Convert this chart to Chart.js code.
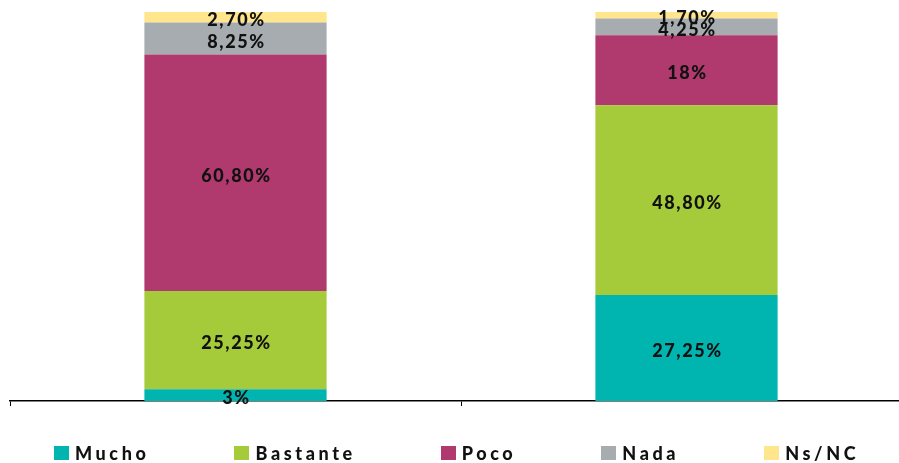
<!DOCTYPE html>
<html lang="es">
<head>
<meta charset="UTF-8">
<title>Mucho / Bastante / Poco / Nada / Ns/NC</title>
<script src="https://cdn.jsdelivr.net/npm/chart.js"></script>
<style>
    html, body {
        margin: 0;
        background: #fff;
        font-family: Lato, sans-serif;
        overflow: hidden;
    }
    .wrap {
        position: relative;
        width: 899px;
        height: 463px;
        overflow: hidden;
    }
    #legend {
        position: absolute;
        left: 54px;
        top: 444px;
        display: flex;
        gap: 85px;
        margin: 0;
        padding: 0;
        list-style: none;
    }
    #legend li {
        display: flex;
        align-items: center;
        height: 18px;
        font-weight: 900;
        font-size: 18px;
        letter-spacing: 3.6px;
        color: #111;
    }
    #legend .box {
        width: 15px;
        height: 14px;
        margin-right: 6px;
    }
</style>
</head>
<body>
<div class="wrap">
    <!-- the plot runs a little past the right edge, as in the original -->
    <canvas id="chart" width="912" height="463"></canvas>
    <ul id="legend"></ul>
</div>
<script>
    // two stacked columns, values in percent
    const categories = ['1', '2'];
    const mucho = [3, 27.25];
    const bastante = [25.25, 48.8];
    const poco = [60.8, 18];
    const nada = [8.25, 4.25];
    const nsnc = [2.7, 1.7];

    const seriesNames = ['Mucho', 'Bastante', 'Poco', 'Nada', 'Ns/NC'];
    const seriesValues = [mucho, bastante, poco, nada, nsnc];
    const seriesColors = ['#00b5b0', '#a5ca3a', '#b03a6e', '#a6acaf', '#ffe68c'];

    function fmt(v) {
        if (Number.isInteger(v)) return v + '%';
        return v.toFixed(2).replace('.', ',') + '%';
    }

    // value labels in the middle of each segment
    const barLabels = {
        id: 'barLabels',
        afterDraw(chart) {
            const ctx = chart.ctx;
            ctx.save();
            ctx.font = '900 18px Lato';
            ctx.letterSpacing = '1.6px';
            ctx.fillStyle = '#111';
            ctx.textAlign = 'center';
            ctx.textBaseline = 'alphabetic';
            chart.data.datasets.forEach((ds, i) => {
                chart.getDatasetMeta(i).data.forEach((bar, j) => {
                    const p = bar.getProps(['x', 'y', 'base'], true);
                    ctx.fillText(fmt(ds.data[j]), p.x + 1, (p.y + p.base) / 2 + 9);
                });
            });
            ctx.restore();
        }
    };

    // html legend under the axis
    const htmlLegend = {
        id: 'htmlLegend',
        afterUpdate(chart) {
            const ul = document.getElementById('legend');
            ul.innerHTML = '';
            chart.options.plugins.legend.labels.generateLabels(chart).forEach(item => {
                const li = document.createElement('li');
                const box = document.createElement('span');
                box.className = 'box';
                box.style.background = item.fillStyle;
                li.appendChild(box);
                li.appendChild(document.createTextNode(item.text));
                ul.appendChild(li);
            });
        }
    };

    const datasets = seriesNames.map((name, i) => ({
        label: name,
        data: seriesValues[i],
        backgroundColor: seriesColors[i],
        borderWidth: 0,
        barPercentage: 0.404,
        categoryPercentage: 1
    }));

    new Chart(document.getElementById('chart'), {
        type: 'bar',
        data: { labels: categories, datasets: datasets },
        options: {
            responsive: false,
            animation: false,
            layout: { padding: { top: 12, left: 10, right: 0, bottom: 57 } },
            plugins: {
                legend: { display: false },
                tooltip: { enabled: false }
            },
            scales: {
                x: {
                    stacked: true,
                    z: 1,
                    ticks: { display: false },
                    grid: {
                        offset: true,
                        drawOnChartArea: false,
                        drawTicks: true,
                        tickLength: 5,
                        color: '#000',
                        lineWidth: 1
                    },
                    border: { color: '#000', width: 1.5 }
                },
                y: {
                    stacked: true,
                    display: false,
                    min: 0,
                    max: 100
                }
            }
        },
        plugins: [barLabels, htmlLegend]
    });
</script>
</body>
</html>
